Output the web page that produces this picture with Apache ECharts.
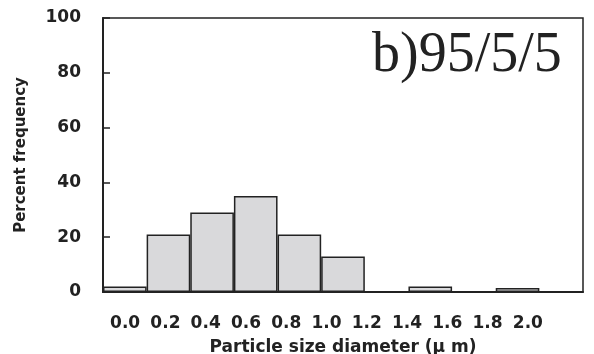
<!DOCTYPE html>
<html><head><meta charset="utf-8">
<script src="https://cdn.jsdelivr.net/npm/echarts@6/dist/echarts.min.js"></script>
<style>html,body{margin:0;padding:0;background:#fff}#c{width:594px;height:354px}</style>
</head><body><div id="c"></div>
<script>
var categories = ['0.0','0.2','0.4','0.6','0.8','1.0','1.2','1.4','1.6','1.8','2.0'];
var frequency = [2, 21, 29, 35, 21, 13, 0, 2, 0, 1.5, 0];
var yTicks = {min: 0, max: 100, interval: 20};
var panelLabel = 'b)95/5/5';
var xName = 'Particle size diameter (\u03bc m)';
var yName = 'Percent frequency';

var chart = echarts.init(document.getElementById('c'));
var font = 'DejaVu Sans';
chart.setOption({
  animation: false,
  backgroundColor: '#fff',
  title: {
    text: panelLabel, left: 367, top: 23,
    textStyle: {fontFamily: 'Liberation Serif', fontSize: 56, fontWeight: 'normal', color: '#222'}
  },
  grid: [
    {left: 103, right: 11, top: 18, bottom: 62, show: true, borderColor: '#222', borderWidth: 1.5, outerBoundsMode: 'none', containLabel: false},
    {left: 105, width: 443, top: 18, bottom: 62, show: false, outerBoundsMode: 'none', containLabel: false}
  ],
  xAxis: [
    {type: 'category', gridIndex: 0, data: categories,
     axisLine: {lineStyle: {color: '#222', width: 2}}, axisTick: {show: false}, axisLabel: {show: false},
     name: xName, nameLocation: 'middle', nameGap: 47,
     nameTextStyle: {fontFamily: font, fontWeight: 'bold', fontSize: 17, color: '#222'}},
    {type: 'category', gridIndex: 1, data: categories,
     axisLine: {show: false}, axisTick: {show: false},
     axisLabel: {margin: 23, fontFamily: font, fontWeight: 'bold', fontSize: 17, color: '#222'}}
  ],
  yAxis: [
    {type: 'value', gridIndex: 0, min: yTicks.min, max: yTicks.max, interval: yTicks.interval,
     splitLine: {show: false},
     axisLine: {show: true, lineStyle: {color: '#222', width: 2}},
     axisTick: {show: true, inside: true, length: 7, lineStyle: {color: '#222', width: 1.5}},
     axisLabel: {margin: 22, fontFamily: font, fontWeight: 'bold', fontSize: 17, color: '#222'},
     name: yName, nameLocation: 'middle', nameGap: 74, nameRotate: 90,
     nameTextStyle: {fontFamily: font, fontWeight: 'bold', fontSize: 15, color: '#222'}},
    {type: 'value', gridIndex: 1, show: false, min: 0, max: 100}
  ],
  series: [{
    type: 'bar', xAxisIndex: 0, yAxisIndex: 0, data: frequency,
    barCategoryGap: '0%',
    itemStyle: {color: '#d9d9db', borderColor: '#222', borderWidth: 1.5}
  }]
});
</script></body></html>
